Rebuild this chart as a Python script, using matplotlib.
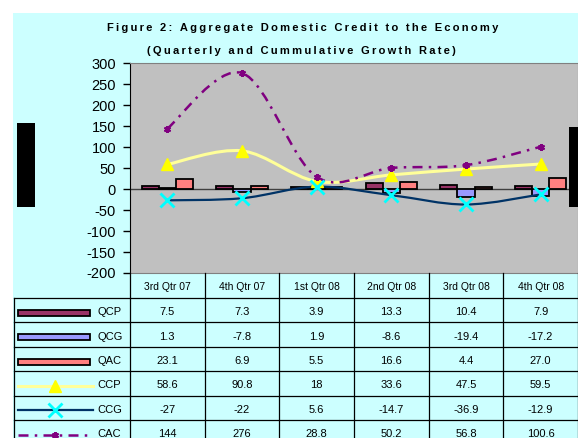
import numpy as np
import matplotlib
matplotlib.use("Agg")
import matplotlib.pyplot as plt
from matplotlib.patches import Rectangle, PathPatch
from matplotlib.path import Path
from matplotlib.lines import Line2D

plt.rcParams['font.family'] = ['Liberation Sans', 'DejaVu Sans']

categories = ["3rd Qtr 07", "4th Qtr 07", "1st Qtr 08", "2nd Qtr 08", "3rd Qtr 08", "4th Qtr 08"]
qcp = [7.5, 7.3, 3.9, 13.3, 10.4, 7.9]
qcg = [1.3, -7.8, 1.9, -8.6, -19.4, -17.2]
qac = [23.1, 6.9, 5.5, 16.6, 4.4, 27.0]
ccp = [58.6, 90.8, 18, 33.6, 47.5, 59.5]
ccg = [-27, -22, 5.6, -14.7, -36.9, -12.9]
cac = [144, 276, 28.8, 50.2, 56.8, 100.6]
row_names = ["QCP", "QCG", "QAC", "CCP", "CCG", "CAC"]
yticks = list(range(-200, 301, 50))

W, H = 578, 438
CYAN = "#CCFFFF"


def smooth_path(xs, ys):
    # excel style smoothed line (bezier through the points)
    pts = np.column_stack([xs, ys]).astype(float)
    n = len(pts)
    verts = [pts[0]]
    codes = [Path.MOVETO]
    for i in range(n - 1):
        p0 = pts[max(i - 1, 0)]
        p1 = pts[i]
        p2 = pts[i + 1]
        p3 = pts[min(i + 2, n - 1)]
        verts += [p1 + (p2 - p0) / 6, p2 - (p3 - p1) / 6, p2]
        codes += [Path.CURVE4] * 3
    return Path(verts, codes)


def spaced(s):
    return "\u2009".join(s)


fig = plt.figure(figsize=(W / 100, H / 100), dpi=100)
fig.patch.set_facecolor("white")

# background layer (pixel coords)
bg = fig.add_axes([0, 0, 1, 1], zorder=0)
bg.set_xlim(0, W)
bg.set_ylim(H, 0)
bg.axis("off")
bg.add_patch(Rectangle((13, 13), W, H, facecolor=CYAN, edgecolor="none"))

# ---- chart ----
x0, x1, ytop, ybot = 130, 578, 63, 273
ax = fig.add_axes([x0 / W, 1 - ybot / H, (x1 - x0) / W, (ybot - ytop) / H], zorder=1)
ax.set_facecolor("#C0C0C0")
ax.set_xlim(-0.5, 5.5)
ax.set_ylim(-200, 300)
ax.set_yticks(yticks)
ax.set_yticklabels([str(v) for v in yticks], fontsize=10.5)
ax.tick_params(axis="y", direction="out", length=5, width=1, pad=5, colors="black")
ax.set_xticks([])
for s in ["top", "bottom", "right"]:
    ax.spines[s].set_color("#808080")
ax.spines["left"].set_color("black")
ax.axhline(0, color="#404040", lw=1, zorder=1.5)

x = np.arange(len(categories))
bw = 0.228
ax.bar(x - bw, qcp, width=bw, color="#993366", edgecolor="black", lw=1.3, zorder=2)
ax.bar(x, qcg, width=bw, color="#9999FF", edgecolor="black", lw=1.3, zorder=2)
ax.bar(x + bw, qac, width=bw, color="#FF8080", edgecolor="black", lw=1.3, zorder=2)

ax.add_patch(PathPatch(smooth_path(x, ccp), fill=False, edgecolor="#FFFF99", lw=2.2, zorder=3))
ax.plot(x, ccp, ls="none", marker="^", ms=8, color="#FFFF00", zorder=4)

ax.add_patch(PathPatch(smooth_path(x, ccg), fill=False, edgecolor="#003366", lw=1.6, zorder=3))
ax.plot(x, ccg, ls="none", marker="x", ms=10, mew=2, color="#00FFFF", zorder=4)

cac_patch = PathPatch(smooth_path(x, cac), fill=False, edgecolor="#800080", lw=1.8, zorder=3)
cac_patch.set_linestyle((0, (4, 2.5, 1, 2.5)))
ax.add_patch(cac_patch)
ax.plot(x, cac, ls="none", marker=(6, 2, 0), ms=5, mew=1.5, color="#800080", zorder=4)

# ---- overlay: title, data table, legend keys ----
ov = fig.add_axes([0, 0, 1, 1], zorder=3)
ov.set_xlim(0, W)
ov.set_ylim(H, 0)
ov.axis("off")
ov.patch.set_alpha(0)

ov.text(303, 28, spaced("Figure 2: Aggregate Domestic Credit to the Economy"),
        ha="center", va="center", fontsize=8, fontweight="bold")
ov.text(301, 51, spaced("(Quarterly and Cummulative Growth Rate)"),
        ha="center", va="center", fontsize=8, fontweight="bold")

cw = (x1 - x0) / len(categories)
row_top, rh = 298, 24.4
tl = dict(color="black", lw=0.9)
for i in range(len(categories) + 1):
    ov.plot([x0 + i * cw] * 2, [ybot, H], **tl)
ov.plot([14, 14], [row_top, H], **tl)
for r in range(len(row_names) + 1):
    ov.plot([14, x1], [row_top + r * rh] * 2, **tl)

for i, c in enumerate(categories):
    ov.text(x0 + (i + 0.5) * cw, (ybot + row_top) / 2 + 1, c, ha="center", va="center", fontsize=7.5)

rows = [qcp, qcg, qac, ccp, ccg, cac]
fmts = ["{:.1f}", "{:.1f}", "{:.1f}", "{:g}", "{:g}", "{:g}"]
for r, (vals, f) in enumerate(zip(rows, fmts)):
    yc = row_top + (r + 0.5) * rh + 2
    for i, v in enumerate(vals):
        ov.text(x0 + (i + 0.5) * cw, yc, f.format(v), ha="center", va="center", fontsize=8)
    ov.text(97, yc, row_names[r], ha="left", va="center", fontsize=8)

# legend keys
bar_cols = ["#993366", "#9999FF", "#FF8080"]
for r, col in enumerate(bar_cols):
    yc = row_top + (r + 0.5) * rh + 2.5
    ov.add_patch(Rectangle((18, yc - 3), 72, 6, facecolor=col, edgecolor="black", lw=1.3))
yc = row_top + 3.5 * rh + 2.5
ov.add_line(Line2D([18, 93], [yc, yc], color="#FFFF99", lw=2.2))
ov.plot([55], [yc], marker="^", ms=8, color="#FFFF00")
yc = row_top + 4.5 * rh + 2.5
ov.add_line(Line2D([18, 93], [yc, yc], color="#003366", lw=1.6))
ov.plot([55], [yc], marker="x", ms=10, mew=2, color="#00FFFF")
yc = row_top + 5.5 * rh + 2.5
ov.add_line(Line2D([18, 93], [yc, yc], color="#800080", lw=1.8, dashes=(4, 2.5, 1, 2.5)))
ov.plot([55], [yc], marker=(6, 2, 0), ms=5, mew=1.5, color="#800080")

# black boxes present in the source image
ov.add_patch(Rectangle((17, 123), 18, 84, facecolor="black", edgecolor="none"))
ov.add_patch(Rectangle((569, 127), 9, 80, facecolor="black", edgecolor="none"))

fig.savefig("out.png", dpi=100, facecolor=fig.get_facecolor())
